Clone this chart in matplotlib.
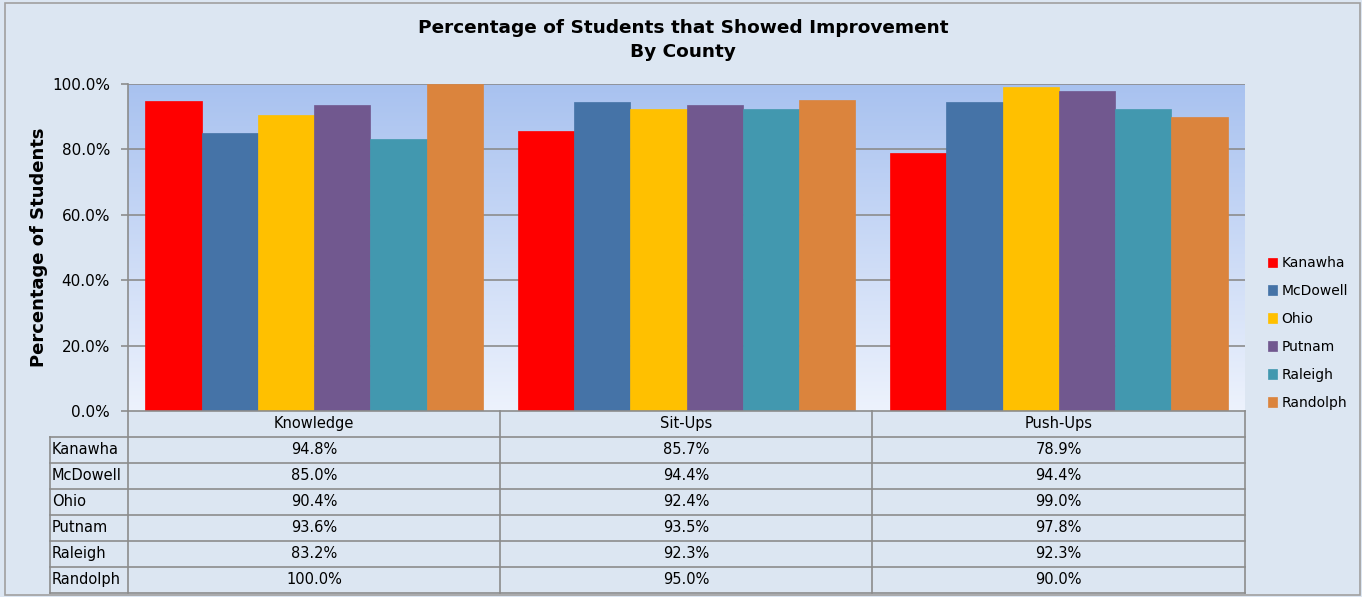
import numpy as np
import matplotlib.pyplot as plt
from matplotlib.patches import Rectangle
from matplotlib.lines import Line2D

categories = ['Knowledge', 'Sit-Ups', 'Push-Ups']
counties = ['Kanawha', 'McDowell', 'Ohio', 'Putnam', 'Raleigh', 'Randolph']
kanawha = [94.8, 85.7, 78.9]
mcdowell = [85.0, 94.4, 94.4]
ohio = [90.4, 92.4, 99.0]
putnam = [93.6, 93.5, 97.8]
raleigh = [83.2, 92.3, 92.3]
randolph = [100.0, 95.0, 90.0]
values = [kanawha, mcdowell, ohio, putnam, raleigh, randolph]
colors = ['#FF0000', '#4573A7', '#FFC000', '#71588F', '#4298AF', '#DB843D']
yticks = [0, 20, 40, 60, 80, 100]

W, H = 1362, 597
bg = '#DCE6F2'
gridc = '#8C8C8C'
plt.rcParams['font.family'] = 'DejaVu Sans'

fig = plt.figure(figsize=(W / 100, H / 100), dpi=100, facecolor=bg)

def px_axes(x0, y0, x1, y1):
    return fig.add_axes([x0 / W, 1 - y1 / H, (x1 - x0) / W, (y1 - y0) / H])

# outer frame
fig.patches.append(Rectangle((5 / W, 1 - 595 / H), 1355 / W, 592 / H, transform=fig.transFigure,
                             fill=False, edgecolor='#A0A0A0', lw=1.2))

# main plot area
ax = px_axes(128, 84, 1245, 411)
ax.set_xlim(0, len(categories))
grad = np.linspace(0, 1, 256).reshape(-1, 1)
top = np.array([0.66, 0.76, 0.94])
bot = np.array([0.93, 0.95, 0.99])
img = top + (bot - top) * grad[:, :, None]
ax.imshow(img, extent=[0, 3, 0, 100], origin='upper', aspect='auto', zorder=0)
ax.set_ylim(0, 100)

bw = 0.151
x = np.arange(len(categories)) + 0.5
for i, (name, vals, c) in enumerate(zip(counties, values, colors)):
    ax.bar(x + (i - 2.5) * bw, vals, bw, color=c, edgecolor=c, lw=0.5, label=name, zorder=3)

for v in yticks[1:]:
    ax.axhline(v, color=gridc, lw=1.2, zorder=1)
ax.set_yticks(yticks)
ax.set_yticklabels([f'{v:.1f}%' for v in yticks], fontsize=11)
ax.set_xticks([])
for s in ['top', 'right', 'bottom']:
    ax.spines[s].set_visible(False)
ax.spines['left'].set_color(gridc)
ax.spines['left'].set_linewidth(1.2)
ax.tick_params(axis='y', length=5, color=gridc, width=1.2, pad=8)
ax.set_ylabel('Percentage of Students', fontsize=13, fontweight='bold', labelpad=3)

fig.text(683 / W, 1 - 40 / H, 'Percentage of Students that Showed Improvement\nBy County',
         ha='center', va='center', fontsize=13.3, fontweight='bold', linespacing=1.45)

# data table
tax = px_axes(50, 411, 1245, 593)
tax.set_xlim(50, 1245)
tax.set_ylim(593, 411)
tax.axis('off')
col_edges = [128, 500, 872, 1245]
row_h = 26
lc = '#8C8C8C'
kw = dict(color=lc, lw=1.2, clip_on=False)
tax.add_line(Line2D([128, 1245], [411, 411], **kw))
for xe in col_edges:
    tax.add_line(Line2D([xe, xe], [411, 593], **kw))
tax.add_line(Line2D([50, 50], [411 + row_h, 593], **kw))
for r in range(len(counties) + 1):
    yy = 411 + row_h * (r + 1)
    tax.add_line(Line2D([50, 1245], [yy, yy], **kw))
for j, cat in enumerate(categories):
    tax.text((col_edges[j] + col_edges[j + 1]) / 2, 411 + row_h / 2, cat,
             ha='center', va='center', fontsize=10.5)
for r, (name, vals) in enumerate(zip(counties, values)):
    yc = 411 + row_h * (r + 1.5)
    tax.text(52, yc, name, ha='left', va='center', fontsize=10.5)
    for j, v in enumerate(vals):
        tax.text((col_edges[j] + col_edges[j + 1]) / 2, yc, f'{v:.1f}%',
                 ha='center', va='center', fontsize=10.5)

fig.legend(*ax.get_legend_handles_labels(), loc='center left',
           bbox_to_anchor=(1255 / W, 1 - 333 / H), frameon=False, fontsize=10,
           handlelength=0.7, handleheight=0.7, handletextpad=0.3, labelspacing=1.0)

fig.savefig('out.png', dpi=100, facecolor=bg)
